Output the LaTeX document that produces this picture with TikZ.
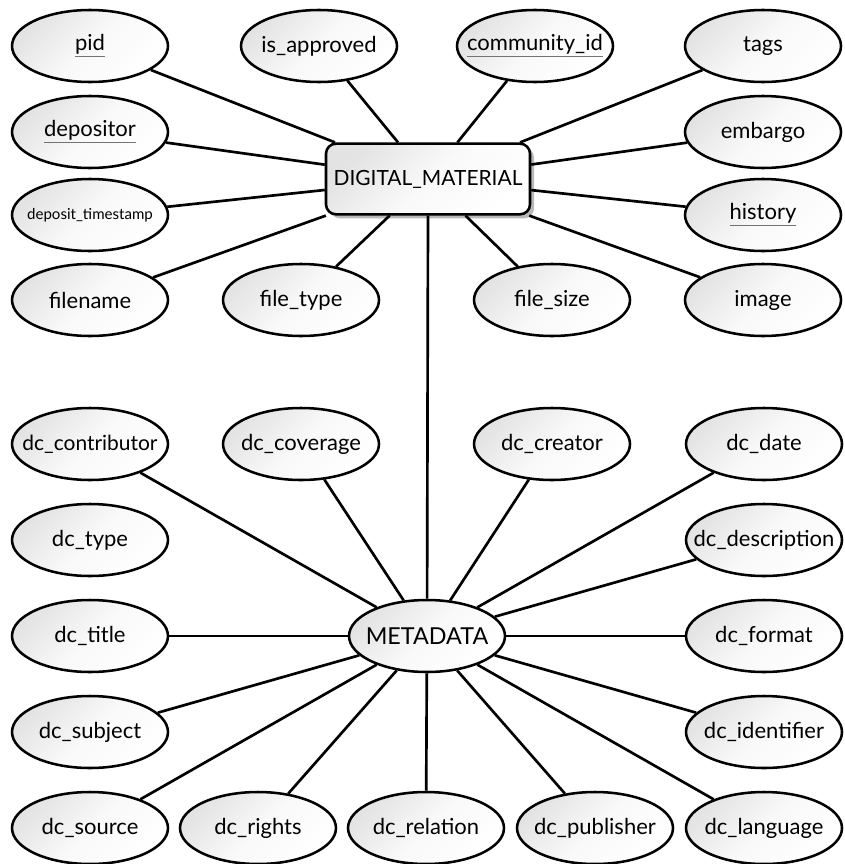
\documentclass[tikz,border=0pt]{standalone}
\usepackage{fontspec}
\setmainfont{Lato}
\usetikzlibrary{shapes.geometric,shadows}
\newcommand{\keyattr}[1]{{\color{gray!90!black}\underline{\textcolor{black}{#1}}}}
\begin{document}
\begin{tikzpicture}[x=0.75pt,y=-0.75pt,
  attr/.style={ellipse, draw=black, line width=1.9pt, inner sep=0pt,
    minimum width=117pt, minimum height=54pt,
    shading=axis, top color=gray!22, bottom color=white, middle color=gray!5, shading angle=45,
    font=\fontsize{16.5}{19}\selectfont},
  entity/.style={rectangle, rounded corners=7.5pt, draw=black, line width=1.9pt,
    inner sep=0pt, minimum width=153pt, minimum height=53pt,
    shading=axis, top color=gray!22, bottom color=white, middle color=gray!5, shading angle=45,
    drop shadow={shadow xshift=3pt, shadow yshift=-3pt, fill=gray!55, opacity=1},
    font=\fontsize{15.7}{18}\selectfont},
  link/.style={draw=black, line width=2pt}]
\useasboundingbox (0,0) rectangle (844,864);
\newcommand{\lbl}[1]{\makebox[0pt]{#1}}

% entity and its attributes
\node[entity] (dm) at (428,179) {\lbl{DIGITAL\_MATERIAL}};
\node[attr] (pid) at (90,46) {\lbl{\keyattr{pid}}};
\node[attr] (isapp) at (319,46) {\lbl{is\_approved}};
\node[attr] (comm) at (535,46) {\lbl{\keyattr{community\_id}}};
\node[attr] (tags) at (763,46) {\lbl{tags}};
\node[attr] (depositor) at (90,132) {\lbl{\keyattr{depositor}}};
\node[attr] (embargo) at (763,132) {\lbl{embargo}};
\node[attr] (dts) at (90,215) {\lbl{\fontsize{11.3}{13}\selectfont deposit\_timestamp}};
\node[attr] (history) at (763,215) {\lbl{\keyattr{history}}};
\node[attr] (filename) at (90,300) {\lbl{filename}};
\node[attr] (filetype) at (301,300) {\lbl{file\_type}};
\node[attr] (filesize) at (552,300) {\lbl{file\_size}};
\node[attr] (image) at (763,300) {\lbl{image}};

% metadata and its Dublin Core fields
\node[attr, font=\fontsize{17.5}{20}\selectfont] (meta) at (427,636) {\lbl{METADATA}};
\node[attr, font=\fontsize{15.7}{18}\selectfont] (contributor) at (90,444) {\lbl{dc\_contributor}};
\node[attr] (coverage) at (301,444) {\lbl{dc\_coverage}};
\node[attr] (creator) at (552,444) {\lbl{dc\_creator}};
\node[attr] (date) at (764,444) {\lbl{dc\_date}};
\node[attr] (type) at (90,540) {\lbl{dc\_type}};
\node[attr] (description) at (764,540) {\lbl{dc\_description}};
\node[attr] (title) at (90,636) {\lbl{dc\_title}};
\node[attr] (format) at (764,636) {\lbl{dc\_format}};
\node[attr] (subject) at (90,732) {\lbl{dc\_subject}};
\node[attr] (identifier) at (764,732) {\lbl{dc\_identifier}};
\node[attr] (source) at (90,828) {\lbl{dc\_source}};
\node[attr] (rights) at (258,828) {\lbl{dc\_rights}};
\node[attr] (relation) at (426,828) {\lbl{dc\_relation}};
\node[attr] (publisher) at (595,828) {\lbl{dc\_publisher}};
\node[attr] (language) at (764,828) {\lbl{dc\_language}};

% connectors
\foreach \n in {pid,isapp,comm,tags,depositor,embargo,dts,history,
                filename,filetype,filesize,image}
  \draw[link] (dm) -- (\n);
\draw[link] (dm.south) -- (meta);
\foreach \n in {contributor,coverage,creator,date,description,title,format,
                subject,identifier,source,rights,relation,publisher,language}
  \draw[link] (meta) -- (\n);
\end{tikzpicture}
\end{document}
